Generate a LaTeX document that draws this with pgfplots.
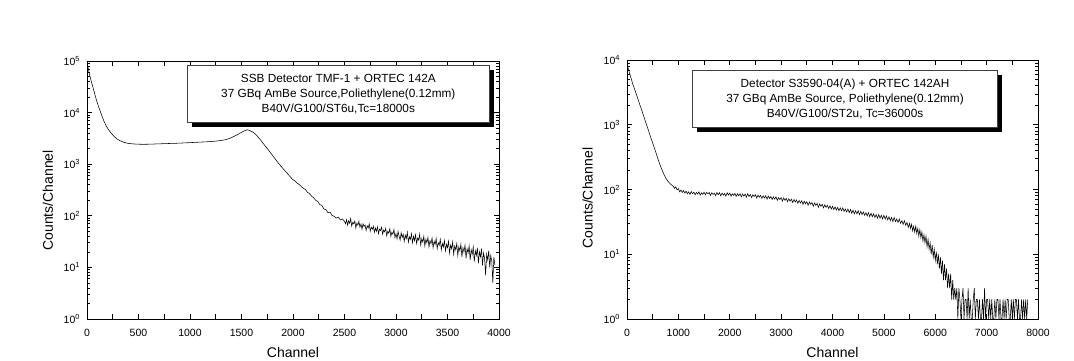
\documentclass[border=0pt]{standalone}
\usepackage{fontspec}
\setmainfont{Liberation Sans}
\usepackage{pgfplots}
\usepackage{pgfplotstable}
\pgfplotsset{compat=1.18}

\pgfplotstableread{
x y
0 90000
10 75000
20 60000
30 50000
45 38000
60 30000
75 23000
90 18000
110 13500
126 11000
145 8600
165 6800
185 5600
205 4800
230 4100
260 3500
290 3100
320 2850
360 2650
400 2530
450 2470
500 2440
550 2430
600 2440
650 2460
700 2480
750 2500
800 2520
850 2540
900 2560
950 2590
1000 2620
1050 2650
1100 2680
1150 2710
1200 2750
1250 2800
1300 2880
1350 3000
1400 3250
1450 3650
1500 4150
1530 4450
1555 4650
1580 4500
1610 4200
1640 3750
1670 3200
1700 2700
1730 2250
1760 1900
1790 1580
1820 1320
1850 1100
1880 930
1910 790
1940 680
1970 580
2000 500
2020 470
2040 430
2060 405
2080 370
2100 340
2120 325
2140 285
2160 270
2180 240
2200 225
2220 200
2240 190
2260 165
2280 160
2300 135
2320 132
2340 115
2360 118
2380 101
2400 98
2420 90
2440 94
2460 83
2480 87
2500 78
2510 70
2520 84
2530 66
2540 80
2550 72
2560 88
2570 63
2580 75
2590 70
2600 79
2610 58
2620 72
2630 66
2640 78
2650 60
2660 69
2670 55
2680 70
2690 62
2700 66
2710 52
2720 64
2730 58
2740 70
2750 50
2760 60
2770 55
2780 63
2790 48
2800 58
2810 50
2820 61
2830 45
2840 55
2850 52
2860 60
2870 44
2880 53
2890 49
2900 57
2910 41
2920 50
2930 46
2940 56
2950 40
2960 48
2970 44
2980 54
2990 38
3000 45
3010 36
3020 50
3030 40
3040 34
3050 47
3060 38
3070 44
3080 32
3090 42
3100 36
3110 48
3120 31
3130 39
3140 35
3150 45
3160 30
3170 40
3180 33
3190 43
3200 29
3210 37
3220 34
3230 44
3240 27
3250 36
3260 31
3270 40
3280 26
3290 35
3300 30
3310 38
3320 25
3330 33
3340 29
3350 37
3360 24
3370 32
3380 28
3390 36
3400 23
3410 30
3420 27
3430 35
3440 22
3450 29
3460 25
3470 33
3480 21
3490 28
3500 24
3510 32
3520 19
3530 27
3540 23
3550 31
3560 18
3570 26
3580 22
3590 29
3600 17
3610 25
3620 21
3630 28
3640 16
3650 24
3660 20
3670 27
3680 15
3690 23
3700 19
3710 26
3720 14
3730 22
3740 18
3750 25
3760 13
3770 21
3780 17
3790 24
3800 12
3810 20
3820 16
3830 23
3840 11
3850 19
3860 15
3870 7
3880 18
3890 14
3900 21
3910 10
3920 17
3930 13
3940 5
3950 16
3960 11
}\leftdata

\pgfplotstableread{
x y
0 8900
20 7600
50 6200
80 5200
110 4300
150 3500
200 2680
250 2040
300 1560
350 1180
400 900
450 680
500 520
550 400
600 300
650 232
700 185
750 152
800 133
850 121
900 112
925 104
950 110
975 99
1000 103
1025 92
1050 98
1075 90
1100 96
1125 88
1150 94
1175 86
1200 92
1225 84
1250 93
1275 86
1300 91
1325 83
1350 90
1375 85
1400 92
1425 82
1450 89
1475 84
1500 91
1525 83
1550 90
1575 86
1600 90
1625 81
1650 89
1675 84
1700 88
1725 80
1750 90
1775 83
1800 89
1825 80
1850 88
1875 82
1900 87
1925 79
1950 89
1975 82
2000 88
2025 79
2050 86
2075 81
2100 87
2125 78
2150 86
2175 80
2200 86
2225 77
2250 85
2275 79
2300 85
2325 76
2350 86
2375 78
2400 84
2425 75
2450 83
2475 78
2500 83
2525 74
2550 82
2575 76
2600 81
2625 73
2650 80
2675 74
2700 80
2725 71
2750 79
2775 73
2800 78
2825 70
2850 77
2875 71
2900 77
2925 68
2950 75
2975 70
3000 75
3025 66
3050 74
3075 68
3100 73
3125 65
3150 72
3175 66
3200 71
3225 63
3250 70
3275 64
3300 69
3325 61
3350 68
3375 62
3400 67
3425 59
3450 66
3475 60
3500 65
3525 57
3550 64
3575 59
3600 63
3625 55
3650 62
3675 57
3700 61
3725 53
3750 60
3775 55
3800 59
3825 52
3850 58
3875 53
3900 57
3925 51
3950 56
3975 50
4000 55
4025 49
4050 54
4075 48
4100 53
4125 47
4150 52
4175 47
4200 52
4225 46
4250 50
4275 45
4300 50
4325 44
4350 49
4375 43
4400 48
4425 42
4450 47
4475 42
4500 47
4525 41
4550 46
4575 41
4600 45
4625 40
4650 44
4675 39
4700 44
4725 38
4750 43
4775 38
4800 42
4825 37
4850 41
4875 36
4900 41
4925 36
4950 40
4975 35
5000 40
5025 35
5050 39
5075 34
5100 38
5125 33
5150 37
5175 32
5200 37
5225 32
5250 35
5275 31
5300 35
5325 30
5350 33
5375 29
5400 33
5425 28
5450 31
5475 26
5500 30
5520 25
5540 29
5560 23
5580 27
5600 22
5620 27
5640 21
5660 25
5680 19
5700 24
5720 18
5740 22
5760 16
5780 20
5800 15
5820 19
5840 13
5860 17
5880 12
5900 15
5920 10
5940 14
5960 9
5980 12
6000 8
6020 11
6040 7
6060 10
6080 6
6100 9
6120 5
6140 8
6160 4
6180 7
6200 4
6220 6
6240 3
6260 5
6280 3
6300 5
6320 2
6340 4
6360 2
6380 3
6400 2
6420 3
6440 1
6460 3
6480 2
6500 1
6520 2
6540 3
6560 1
6580 2
6600 2
6620 1
6640 3
6660 1
6680 2
6700 1
6720 1
6740 2
6760 3
6780 1
6800 2
6820 2
6840 1
6860 2
6880 1
6900 1
6920 2
6940 1
6960 3
6980 1
7000 2
7020 2
7040 1
7060 2
7080 1
7100 2
7120 1
7140 1
7160 2
7180 1
7200 2
7220 2
7240 1
7260 2
7280 1
7300 1
7320 2
7340 1
7360 2
7380 1
7400 2
7420 2
7440 1
7460 1
7480 2
7500 1
7520 2
7540 1
7560 2
7580 2
7600 1
7620 2
7640 1
7660 1
7680 2
7700 1
7720 2
7740 1
7760 2
7780 1
7800 2
}\rightdata

\begin{document}
\begin{tikzpicture}
\path[use as bounding box] (0,0) rectangle (1074pt,361pt);

\begin{axis}[
  scale only axis,
  at={(87pt,42pt)}, anchor=south west,
  width=412pt, height=258pt,
  ymode=log, log basis y=10, ymin=1, ymax=100000,
  xmin=0, xmax=4000,
  axis line style={line width=0.8pt},
  major tick length=5pt, minor tick length=3pt,
  tick align=inside,
  tick style={black, line width=0.7pt},
  ticklabel style={font=\fontsize{10.5}{12}\selectfont},
  xticklabel style={yshift=-6.2pt},
  yticklabel style={xshift=-3.5pt},
  scaled x ticks=false,
  yticklabel={10\textsuperscript{\pgfmathparse{int(round(\tick))}\pgfmathresult}},
  xtick={0,250,...,4000},
  xticklabels={0,,500,,1000,,1500,,2000,,2500,,3000,,3500,,4000},
  xlabel={Channel}, ylabel={Counts/Channel},
  label style={font=\fontsize{14}{16}\selectfont},
  xlabel style={at={(axis description cs:0.5,0)}, anchor=base, yshift=-38.7pt},
  ylabel style={at={(axis description cs:-0.095,0.46)}, anchor=center},
]
\addplot[black, line width=0.55pt, mark=none] table[x=x,y=y] {\leftdata};
\fill[black] ([xshift=4.5pt,yshift=-4.5pt]rel axis cs:0.243,0.761) rectangle ([xshift=4.5pt,yshift=-4.5pt]rel axis cs:0.977,0.983);
\draw[fill=white, draw=black!75, line width=0.8pt] (rel axis cs:0.243,0.761) rectangle (rel axis cs:0.977,0.983);
\node[align=center, font=\fontsize{11.8}{15}\selectfont, inner sep=0pt] at (rel axis cs:0.61,0.872) {SSB Detector TMF-1 + ORTEC 142A\\37 GBq AmBe Source,Poliethylene(0.12mm)\\B40V/G100/ST6u,Tc=18000s};
\end{axis}

\begin{axis}[
  scale only axis,
  at={(627pt,42pt)}, anchor=south west,
  width=411pt, height=259pt,
  ymode=log, log basis y=10, ymin=1, ymax=10000,
  xmin=0, xmax=8000,
  axis line style={line width=0.8pt},
  major tick length=5pt, minor tick length=3pt,
  tick align=inside,
  tick style={black, line width=0.7pt},
  ticklabel style={font=\fontsize{10.5}{12}\selectfont},
  xticklabel style={yshift=-6.2pt},
  yticklabel style={xshift=-3.5pt},
  scaled x ticks=false,
  yticklabel={10\textsuperscript{\pgfmathparse{int(round(\tick))}\pgfmathresult}},
  xtick={0,500,...,8000},
  xticklabels={0,,1000,,2000,,3000,,4000,,5000,,6000,,7000,,8000},
  xlabel={Channel}, ylabel={Counts/Channel},
  label style={font=\fontsize{14}{16}\selectfont},
  xlabel style={at={(axis description cs:0.5,0)}, anchor=base, yshift=-38.7pt},
  ylabel style={at={(axis description cs:-0.096,0.467)}, anchor=center},
]
\addplot[black, line width=0.55pt, mark=none] table[x=x,y=y] {\rightdata};
\fill[black] ([xshift=4.5pt,yshift=-4.5pt]rel axis cs:0.159,0.739) rectangle ([xshift=4.5pt,yshift=-4.5pt]rel axis cs:0.902,0.961);
\draw[fill=white, draw=black!75, line width=0.8pt] (rel axis cs:0.159,0.739) rectangle (rel axis cs:0.902,0.961);
\node[align=center, font=\fontsize{11.8}{15}\selectfont, inner sep=0pt] at (rel axis cs:0.5305,0.85) {Detector S3590-04(A) + ORTEC 142AH\\37 GBq AmBe Source, Poliethylene(0.12mm)\\B40V/G100/ST2u, Tc=36000s};
\end{axis}
\end{tikzpicture}
\end{document}
